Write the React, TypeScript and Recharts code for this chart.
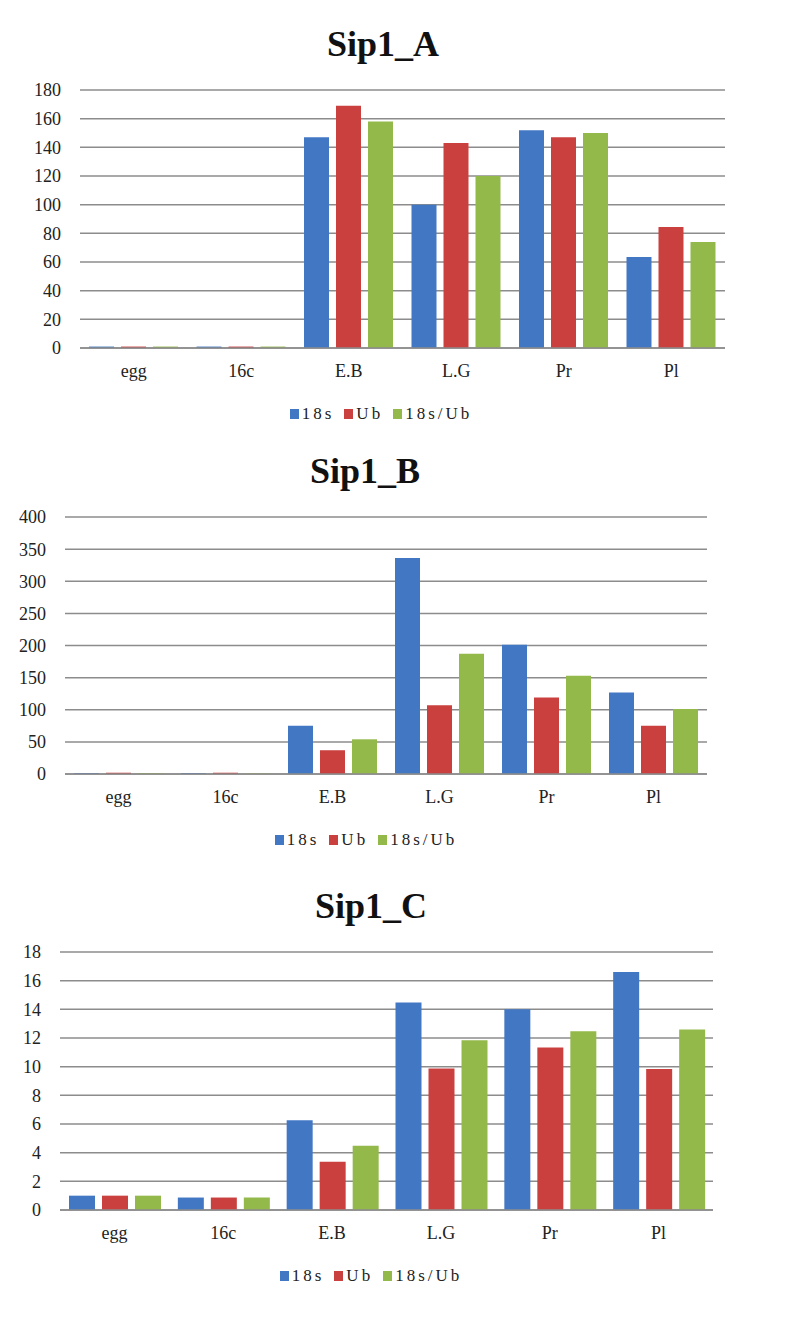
import React from "react";
import {
  BarChart,
  Bar,
  XAxis,
  YAxis,
  CartesianGrid,
  Legend,
} from "recharts";

const categories = ["egg", "16c", "E.B", "L.G", "Pr", "Pl"];
const seriesNames = ["18s", "Ub", "18s/Ub"];

// Sip1_A
const a18s = [1, 1, 147, 100, 152, 63.5];
const aUb = [1, 1, 169, 143, 147, 84.5];
const aRatio = [1, 1, 158, 120, 150, 74];
const aTicks = [0, 20, 40, 60, 80, 100, 120, 140, 160, 180];

// Sip1_B
const b18s = [1.5, 1.5, 75, 336, 201, 127];
const bUb = [2, 2, 37, 107, 119, 75];
const bRatio = [1.5, 1.2, 54, 187, 153, 101];
const bTicks = [0, 50, 100, 150, 200, 250, 300, 350, 400];

// Sip1_C
const c18s = [1.0, 0.87, 6.27, 14.47, 14.0, 16.6];
const cUb = [1.0, 0.87, 3.37, 9.87, 11.34, 9.83];
const cRatio = [1.0, 0.87, 4.48, 11.85, 12.47, 12.59];
const cTicks = [0, 2, 4, 6, 8, 10, 12, 14, 16, 18];

const BLUE = "#4277C4";
const RED = "#C9403F";
const GREEN = "#93B94A";
const colors = [BLUE, RED, GREEN];
const GRID = "#8c8c8c";
const SERIF = "'Liberation Serif', 'Times New Roman', serif";

function makeRows(s18: number[], ub: number[], ratio: number[]) {
  return categories.map((c, i) => ({
    name: c,
    s18: s18[i],
    ub: ub[i],
    ratio: ratio[i],
  }));
}

function legendContent(centerX: number) {
  return () => (
    <div
      style={{
        display: "flex",
        justifyContent: "center",
        alignItems: "center",
        height: 28,
        transform: `translateX(${centerX - 393}px)`,
        fontFamily: SERIF,
        fontSize: 17,
        color: "#222",
      }}
    >
      {seriesNames.map((n, i) => (
        <span key={n} style={{ display: "flex", alignItems: "center", marginRight: 10 }}>
          <span
            style={{
              display: "inline-block",
              width: 9,
              height: 10,
              background: colors[i],
              marginRight: 3,
            }}
          />
          <span style={{ letterSpacing: 3 }}>{n}</span>
        </span>
      ))}
    </div>
  );
}

interface SipChartProps {
  title: string;
  titleX: number;
  legendX: number;
  top: number;
  marginTop: number;
  plotLeft: number;
  plotRight: number;
  plotHeight: number;
  ticks: number[];
  s18: number[];
  ub: number[];
  ratio: number[];
}

function SipChart(p: SipChartProps) {
  const data = makeRows(p.s18, p.ub, p.ratio);
  const xHeight = 52;
  const legendHeight = 28;
  const height = p.marginTop + p.plotHeight + xHeight + legendHeight;
  const tick = { fontSize: 18, fontFamily: SERIF, fill: "#222" };

  return (
    <div style={{ position: "absolute", left: 0, top: p.top, width: 786, height }}>
      <div
        style={{
          position: "absolute",
          left: p.titleX - 150,
          width: 300,
          top: p.marginTop - 65,
          textAlign: "center",
          fontFamily: SERIF,
          fontWeight: "bold",
          fontSize: 36,
          lineHeight: 1.107,
          color: "#111",
        }}
      >
        {p.title}
      </div>
      <BarChart
        width={786}
        height={height}
        data={data}
        style={{ fontFamily: SERIF, fontSize: 18 }}
        margin={{ top: p.marginTop, left: 0, right: 786 - p.plotRight, bottom: 0 }}
        barCategoryGap={9}
        barGap={7}
      >
        <CartesianGrid vertical={false} stroke={GRID} strokeWidth={1.5} />
        <XAxis
          dataKey="name"
          height={xHeight}
          tickLine={false}
          tickSize={0}
          tickMargin={16}
          axisLine={{ stroke: GRID, strokeWidth: 1.5 }}
          tick={tick}
        />
        <YAxis
          width={p.plotLeft}
          domain={[p.ticks[0], p.ticks[p.ticks.length - 1]]}
          ticks={p.ticks}
          interval={0}
          axisLine={false}
          tickLine={false}
          tickSize={0}
          tickMargin={19}
          tick={tick}
        />
        <Legend
          verticalAlign="bottom"
          height={legendHeight}
          wrapperStyle={{ left: 0, width: 786 }}
          content={legendContent(p.legendX)}
        />
        <Bar dataKey="s18" name="18s" fill={BLUE} isAnimationActive={false} />
        <Bar dataKey="ub" name="Ub" fill={RED} isAnimationActive={false} />
        <Bar dataKey="ratio" name="18s/Ub" fill={GREEN} isAnimationActive={false} />
      </BarChart>
    </div>
  );
}

export default function App() {
  return (
    <div
      style={{
        position: "absolute",
        left: 0,
        top: 0,
        width: 786,
        height: 1318,
        background: "#fff",
      }}
    >
      <SipChart
        title="Sip1_A"
        titleX={383}
        legendX={386}
        top={0}
        marginTop={90}
        plotLeft={80}
        plotRight={725}
        plotHeight={258}
        ticks={aTicks}
        s18={a18s}
        ub={aUb}
        ratio={aRatio}
      />
      <SipChart
        title="Sip1_B"
        titleX={365}
        legendX={371}
        top={431}
        marginTop={86}
        plotLeft={65}
        plotRight={707}
        plotHeight={257}
        ticks={bTicks}
        s18={b18s}
        ub={bUb}
        ratio={bRatio}
      />
      <SipChart
        title="Sip1_C"
        titleX={371}
        legendX={376}
        top={870}
        marginTop={82}
        plotLeft={60}
        plotRight={713}
        plotHeight={258}
        ticks={cTicks}
        s18={c18s}
        ub={cUb}
        ratio={cRatio}
      />
    </div>
  );
}
